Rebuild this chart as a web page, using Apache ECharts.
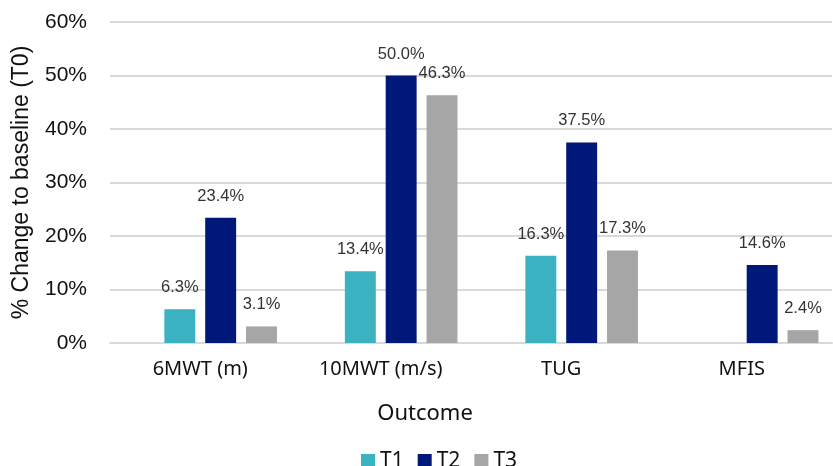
<!DOCTYPE html>
<html>
<head>
<meta charset="utf-8">
<style>
  html, body { margin: 0; padding: 0; background: #fff; }
  #chart { width: 833px; height: 466px; }
</style>
<script src="https://cdn.jsdelivr.net/npm/echarts@6/dist/echarts.min.js"></script>
</head>
<body>
<div id="chart"></div>
<script>
const categories = ['6MWT (m)', '10MWT (m/s)', 'TUG', 'MFIS'];
// baseline slot is kept empty, it only takes up the first place in each group
const t0 = [null, null, null, null];
const t1 = [6.3, 13.4, 16.3, null];
const t2 = [23.4, 50.0, 37.5, 14.6];
const t3 = [3.1, 46.3, 17.3, 2.4];
const yTicks = [0, 10, 20, 30, 40, 50, 60];

const colors = { T0: 'rgba(0,0,0,0)', T1: '#3AB2C2', T2: '#00187A', T3: '#A6A6A6' };
const sans = 'Liberation Sans, Arial, sans-serif';
const aptos = 'Noto Sans, Inter, sans-serif';

const chart = echarts.init(document.getElementById('chart'));

function barSeries(name, data) {
  return {
    name,
    type: 'bar',
    data,
    barGap: '32%',
    barCategoryGap: '15%',
    itemStyle: { color: colors[name] },
    label: {
      show: true,
      position: 'top',
      distance: 13,
      formatter: p => p.value == null ? '' : p.value.toFixed(1) + '%',
      fontFamily: sans,
      fontSize: 16.5,
      color: '#333'
    }
  };
}

chart.setOption({
  animation: false,
  grid: { left: 110, right: 1, top: 22, bottom: 123 },
  legend: {
    top: 445,
    left: 356,
    itemWidth: 14,
    itemHeight: 14,
    itemGap: 14,
    icon: 'rect',
    textStyle: { fontSize: 21, lineHeight: 22, color: '#111', fontFamily: aptos },
    data: ['T1', 'T2', 'T3']
  },
  xAxis: {
    type: 'category',
    data: categories,
    name: 'Outcome',
    nameLocation: 'middle',
    nameGap: 60,
    nameTextStyle: { fontSize: 22, color: '#111', fontFamily: aptos, padding: [0, 92, 0, 0] },
    axisLine: { lineStyle: { color: '#d9d9d9', width: 2 } },
    axisTick: { show: false },
    axisLabel: { fontSize: 20, color: '#111', margin: 16, fontFamily: aptos }
  },
  yAxis: {
    type: 'value',
    min: yTicks[0],
    max: yTicks[yTicks.length - 1],
    interval: 10,
    name: '% Change to baseline (T0)',
    nameLocation: 'middle',
    nameGap: 77,
    nameRotate: 90,
    nameTextStyle: { fontSize: 23, color: '#111', fontFamily: sans },
    axisLine: { show: false },
    axisTick: { show: false },
    axisLabel: {
      formatter: '{value}%',
      fontSize: 21,
      color: '#111',
      margin: 23,
      fontFamily: sans
    },
    splitLine: { lineStyle: { color: '#d9d9d9', width: 2 } }
  },
  series: [
    barSeries('T0', t0),
    barSeries('T1', t1),
    barSeries('T2', t2),
    barSeries('T3', t3)
  ]
});
</script>
</body>
</html>
